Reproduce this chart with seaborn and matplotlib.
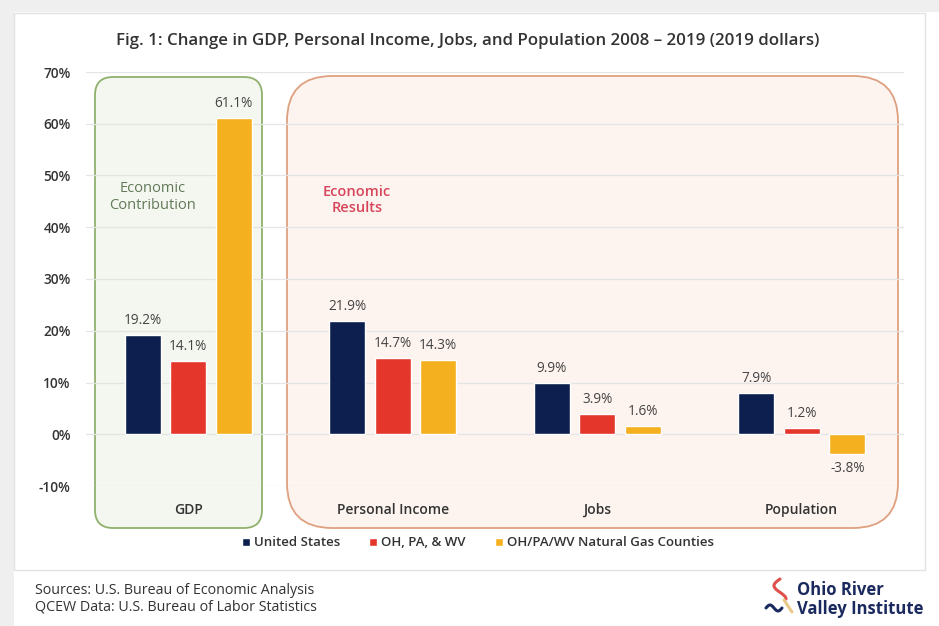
import matplotlib
matplotlib.use("Agg")
import matplotlib.pyplot as plt
import numpy as np
import pandas as pd
import seaborn as sns
from matplotlib.patches import FancyBboxPatch, Rectangle

# data
categories = ["GDP", "Personal Income", "Jobs", "Population"]
series = ["United States", "OH, PA, & WV", "OH/PA/WV Natural Gas Counties"]
us = [19.2, 21.9, 9.9, 7.9]
tri_state = [14.1, 14.7, 3.9, 1.2]
gas_counties = [61.1, 14.3, 1.6, -3.8]
yticks = [-10, 0, 10, 20, 30, 40, 50, 60, 70]

colors = ["#0c1f4e", "#e5362b", "#f5b01f"]

df = pd.DataFrame({
    "category": categories * 3,
    "series": [s for s in series for _ in categories],
    "value": us + tri_state + gas_counties,
})

sns.set_style("white")
plt.rcParams["font.family"] = ["Open Sans", "DejaVu Sans"]

W, H = 939, 626
fig = plt.figure(figsize=(W / 100, H / 100), dpi=100)
fig.patch.set_facecolor("white")

# background layer in pixel coordinates
bg = fig.add_axes([0, 0, 1, 1], zorder=0)
bg.set_xlim(0, W)
bg.set_ylim(H, 0)
bg.axis("off")
bg.add_patch(Rectangle((0, 0), W, 12, color="#efefef", lw=0))
bg.add_patch(Rectangle((0, 0), 14, H, color="#efefef", lw=0))
bg.add_patch(Rectangle((14, 13), 911, 557, facecolor="white", edgecolor="#e2e2e2", lw=1))

bg.add_patch(FancyBboxPatch((95, 77), 167, 451, boxstyle="round,pad=0,rounding_size=18",
                            facecolor="#f3f7ef", edgecolor="#8fb16c", lw=1.3))
bg.add_patch(FancyBboxPatch((287, 76), 611, 452, boxstyle="round,pad=0,rounding_size=45",
                            facecolor="#fdf3ef", edgecolor="#dfa07f", lw=1.3))

bg.text(153, 197, "Economic\nContribution", ha="center", va="center", fontsize=10.5,
        color="#63795a", linespacing=1.15)
bg.text(357, 200, "Economic\nResults", ha="center", va="center", fontsize=10.5,
        color="#d6465a", weight="semibold", linespacing=1.15)

bg.text(468, 41, "Fig. 1: Change in GDP, Personal Income, Jobs, and Population 2008 \u2013 2019 (2019 dollars)",
        ha="center", va="center", fontsize=12.2, weight="semibold", color="#333333")

bg.text(35, 590, "Sources: U.S. Bureau of Economic Analysis", ha="left", va="center",
        fontsize=10.3, color="#333333")
bg.text(35, 607, "QCEW Data: U.S. Bureau of Labor Statistics", ha="left", va="center",
        fontsize=10.3, color="#333333")

# logo
bg.text(797, 590, "Ohio River", ha="left", va="center", fontsize=12, weight="bold", color="#1b2a5e")
bg.text(797, 609, "Valley Institute", ha="left", va="center", fontsize=12, weight="bold", color="#1b2a5e")
t = np.linspace(0, 1, 30)
bg.plot(780 - 6 * np.sin(t * np.pi * 1.5), 579 + 20 * t, color="#e0504a", lw=2.2, solid_capstyle="round")
bg.plot(784 + 8 * t, 600 + 12 * t, color="#e8c98a", lw=2.2, solid_capstyle="round")
bg.plot(766 + 16 * t, 608 - 3 * np.sin(t * 2 * np.pi), color="#1b2a5e", lw=2.2, solid_capstyle="round")

# main chart
ax = fig.add_axes([86 / W, 1 - 486 / H, (904 - 86) / W, (486 - 72) / H], zorder=1)
ax.patch.set_alpha(0)
sns.barplot(data=df, x="category", y="value", hue="series", palette=colors, order=categories,
            hue_order=series, width=0.668, gap=0.21, saturation=1, ax=ax, zorder=3)

handles, labels = ax.get_legend_handles_labels()
ax.legend_.remove()

for cont in ax.containers:
    ax.bar_label(cont, labels=[f"{v:.1f}%" for v in cont.datavalues], padding=5,
                 fontsize=9.8, color="#444444")

ax.set_ylim(-10, 70)
ax.set_yticks(yticks)
ax.set_yticklabels([f"{v}%" for v in yticks])
ax.yaxis.grid(True, color="#e4e4e4", lw=0.9, zorder=0)
ax.set_axisbelow(True)
ax.set_xlabel("")
ax.set_ylabel("")
for s in ax.spines.values():
    s.set_visible(False)
ax.tick_params(axis="y", length=0, pad=11, labelsize=9.8, labelcolor="#333333")
ax.tick_params(axis="x", length=0, pad=12, labelsize=10, labelcolor="#333333")
for lab in ax.get_yticklabels() + ax.get_xticklabels():
    lab.set_fontweight("semibold")

fig.legend(handles, labels, loc="center", bbox_to_anchor=(478 / W, 1 - 543 / H), ncol=3,
           frameon=False, handlelength=0.6, handleheight=0.6, handletextpad=0.3,
           columnspacing=2.2, prop={"size": 9.5, "weight": "semibold"}, labelcolor="#333333")

fig.savefig("out.png", dpi=100)
